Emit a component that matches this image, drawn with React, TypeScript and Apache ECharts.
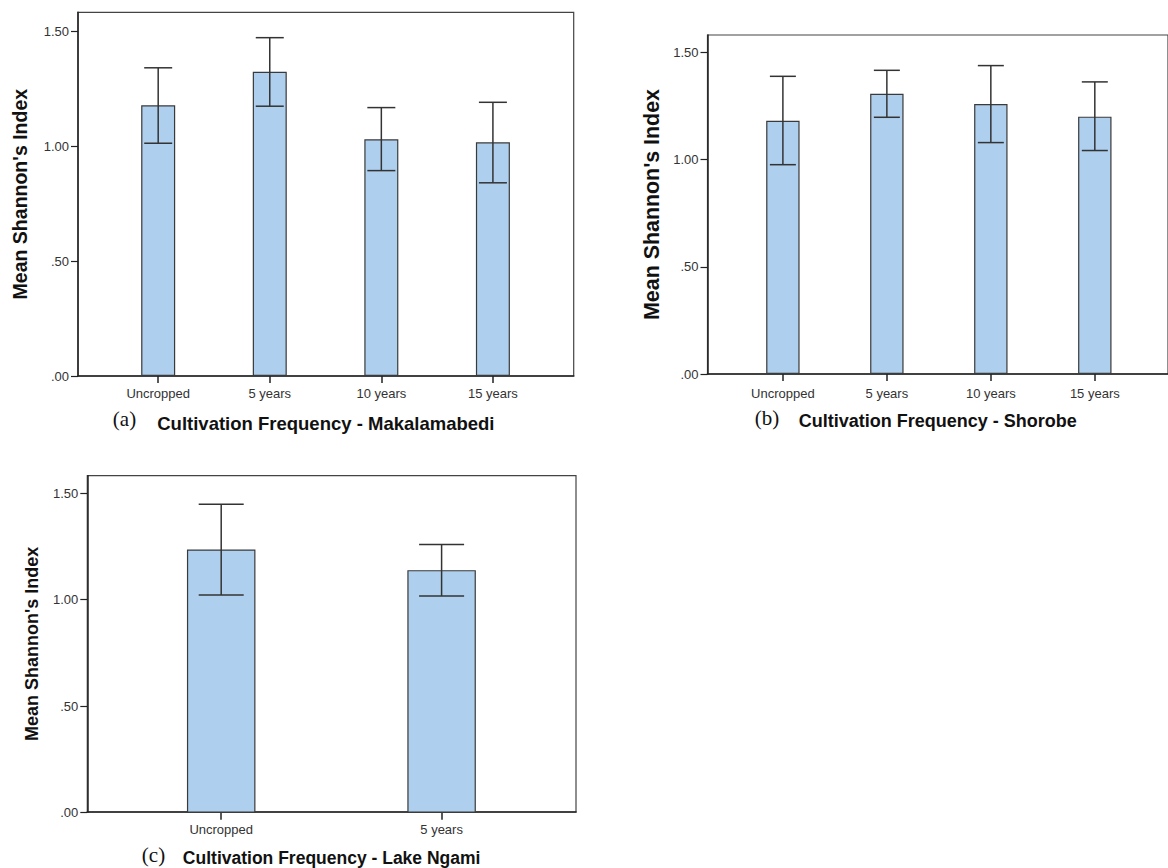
import React, { useEffect, useRef } from "react";
import * as echarts from "echarts";

// ---------- data ----------
const catsA = ["Uncropped", "5 years", "10 years", "15 years"];
const meanA = [1.177, 1.323, 1.029, 1.016];
const lowA = [1.012, 1.173, 0.893, 0.84];
const highA = [1.34, 1.471, 1.167, 1.19];

const catsB = ["Uncropped", "5 years", "10 years", "15 years"];
const meanB = [1.181, 1.307, 1.259, 1.2];
const lowB = [0.976, 1.197, 1.079, 1.042];
const highB = [1.388, 1.416, 1.438, 1.362];

const catsC = ["Uncropped", "5 years"];
const meanC = [1.235, 1.138];
const lowC = [1.021, 1.017];
const highC = [1.447, 1.258];

const yMax = 1.5;
const yInterval = 0.5;
const yTitle = "Mean Shannon's Index";
const xTitles = [
  "Cultivation Frequency - Makalamabedi",
  "Cultivation Frequency - Shorobe",
  "Cultivation Frequency - Lake Ngami",
];
const panelTags = ["(a)", "(b)", "(c)"];

// ---------- layout ----------
const SANS = "Liberation Sans, Arial, sans-serif";
const SERIF = "Liberation Serif, Times New Roman, serif";
const BAR_FILL = "#aecfed";
const DARK = "#222";
const LABEL = "#333";

// box = outer frame; inner = plotting area of categories (0..1.5)
const panels = [
  {
    cats: catsA, mean: meanA, low: lowA, high: highA,
    box: { left: 78, top: 12.3, width: 495.7, height: 363.7 },
    inner: { left: 102.4, top: 31, width: 446.3, height: 345 },
    barW: 34, capW: 28, yNameGap: 48, yNameSize: 19.5,
    xNameGap: 38, xNameSize: 18.5, xLabelMargin: 11, tag: { x: 124.5, y: 418.5 },
  },
  {
    cats: catsB, mean: meanB, low: lowB, high: highB,
    box: { left: 707.5, top: 35, width: 462.7, height: 339 },
    inner: { left: 730.9, top: 52.3, width: 415.9, height: 321.7 },
    barW: 33.4, capW: 26, yNameGap: 45, yNameSize: 21.4,
    xNameGap: 38, xNameSize: 18, xLabelMargin: 13, tag: { x: 767, y: 418 },
  },
  {
    cats: catsC, mean: meanC, low: lowC, high: highC,
    box: { left: 87.3, top: 475.7, width: 488.7, height: 337 },
    inner: { left: 111, top: 493, width: 440.8, height: 319.7 },
    barW: 68.5, capW: 45, yNameGap: 46, yNameSize: 18,
    xNameGap: 37, xNameSize: 17.5, xLabelMargin: 10, tag: { x: 153.5, y: 854.7 },
  },
];

const fmtY = (v: number) => {
  const s = v.toFixed(2);
  return s.startsWith("0") ? s.slice(1) : s;
};

export default function App() {
  const ref = useRef<HTMLDivElement>(null);

  useEffect(() => {
    if (!ref.current) return;
    const chart = echarts.init(ref.current, undefined, { renderer: "svg" });

    const grids: any[] = [];
    const xAxes: any[] = [];
    const yAxes: any[] = [];
    const series: any[] = [];
    const graphics: any[] = [];
    const n = panels.length;

    // inner grids 0..n-1
    panels.forEach((p, i) => {
      grids.push({ ...p.inner, show: false, containLabel: false });
      xAxes.push({
        type: "category",
        gridIndex: i,
        data: p.cats,
        boundaryGap: true,
        axisLine: { show: false },
        axisTick: { show: true, alignWithLabel: true, length: 7, lineStyle: { color: DARK, width: 1.5 } },
        axisLabel: {
          show: true,
          margin: p.xLabelMargin,
          fontSize: 13,
          fontFamily: SANS,
          color: LABEL,
          interval: 0,
        },
        splitLine: { show: false },
      });
      yAxes.push({
        type: "value",
        gridIndex: i,
        min: 0,
        max: yMax,
        interval: yInterval,
        offset: p.inner.left - p.box.left,
        splitLine: { show: false },
        axisLine: { show: false },
        axisTick: { show: true, length: 7, lineStyle: { color: DARK, width: 1.2 } },
        axisLabel: {
          show: true,
          formatter: fmtY,
          margin: 9,
          fontSize: 13,
          fontFamily: SANS,
          color: LABEL,
        },
      });
      series.push({
        type: "bar",
        xAxisIndex: i,
        yAxisIndex: i,
        barWidth: p.barW,
        data: p.mean,
        itemStyle: { color: BAR_FILL, borderColor: "#3a3a3a", borderWidth: 1.2 },
        silent: true,
      });
      const cap = p.capW;
      series.push({
        type: "custom",
        xAxisIndex: i,
        yAxisIndex: i,
        data: p.low.map((l, k) => [k, l, p.high[k]]),
        encode: { x: 0, y: [1, 2] },
        z: 5,
        silent: true,
        renderItem: (params: any, api: any) => {
          const x = api.value(0);
          const lo = api.coord([x, api.value(1)]);
          const hi = api.coord([x, api.value(2)]);
          const st = { stroke: "#333", lineWidth: 1.5 };
          return {
            type: "group",
            children: [
              { type: "line", shape: { x1: lo[0], y1: lo[1], x2: hi[0], y2: hi[1] }, style: st },
              { type: "line", shape: { x1: hi[0] - cap / 2, y1: hi[1], x2: hi[0] + cap / 2, y2: hi[1] }, style: st },
              { type: "line", shape: { x1: lo[0] - cap / 2, y1: lo[1], x2: lo[0] + cap / 2, y2: lo[1] }, style: st },
            ],
          };
        },
      });
      graphics.push({
        type: "text",
        x: p.tag.x,
        y: p.tag.y,
        style: {
          text: panelTags[i],
          font: `21px ${SERIF}`,
          fill: "#111",
          textAlign: "center",
          textVerticalAlign: "middle",
        },
      });
    });

    // outer frame grids n..2n-1
    panels.forEach((p, i) => {
      grids.push({
        ...p.box,
        show: true,
        borderColor: "#444",
        borderWidth: 1.2,
        backgroundColor: "transparent",
        containLabel: false,
      });
      xAxes.push({
        type: "value",
        gridIndex: n + i,
        min: 0,
        max: 1,
        splitLine: { show: false },
        axisLine: { show: true, onZero: false, lineStyle: { color: DARK, width: 1.6 } },
        axisTick: { show: false },
        axisLabel: { show: false },
        name: xTitles[i],
        nameLocation: "middle",
        nameGap: p.xNameGap,
        nameTextStyle: { fontFamily: SANS, fontWeight: "bold", fontSize: p.xNameSize, color: "#111" },
      });
      yAxes.push({
        type: "value",
        gridIndex: n + i,
        min: 0,
        max: 1,
        splitLine: { show: false },
        axisLine: { show: true, onZero: false, lineStyle: { color: DARK, width: 1.5 } },
        axisTick: { show: false },
        axisLabel: { show: false },
        name: yTitle,
        nameLocation: "middle",
        nameRotate: 90,
        nameGap: p.yNameGap,
        nameTextStyle: { fontFamily: SANS, fontWeight: "bold", fontSize: p.yNameSize, color: "#111" },
      });
    });

    chart.setOption({
      animation: false,
      backgroundColor: "#ffffff",
      grid: grids,
      xAxis: xAxes,
      yAxis: yAxes,
      series,
      graphic: graphics,
    });

    return () => chart.dispose();
  }, []);

  return (
    <div
      ref={ref}
      style={{ position: "fixed", left: 0, top: 0, width: 1168, height: 868, background: "#fff" }}
    />
  );
}
